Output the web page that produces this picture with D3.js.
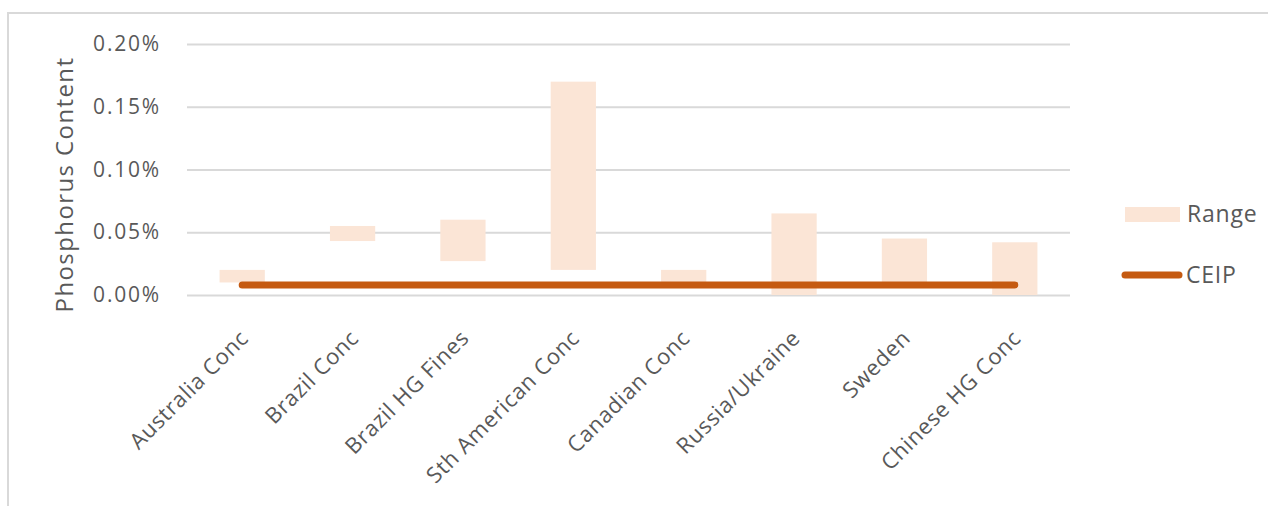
<!DOCTYPE html>
<html>
<head>
<meta charset="utf-8">
<script src="https://cdn.jsdelivr.net/npm/d3@7"></script>
<style>
  html, body { margin: 0; padding: 0; background: #fff; }
  svg { display: block; font-family: "Open Sans", "Noto Sans", sans-serif; }
</style>
</head>
<body>
<svg id="chart" width="1268" height="506"></svg>
<script>
const categories = ["Australia Conc", "Brazil Conc", "Brazil HG Fines", "Sth American Conc",
  "Canadian Conc", "Russia/Ukraine", "Sweden", "Chinese HG Conc"];
const rangeLow  = [0.010, 0.043, 0.027, 0.020, 0.010, 0.000, 0.010, 0.000];
const rangeHigh = [0.020, 0.055, 0.060, 0.170, 0.020, 0.065, 0.045, 0.042];
const ceip      = [0.008, 0.008, 0.008, 0.008, 0.008, 0.008, 0.008, 0.008];
const yTicks    = [0, 0.05, 0.10, 0.15, 0.20];
const seriesNames = ["Range", "CEIP"];

const FONT = '"Open Sans", "Noto Sans", sans-serif';
const svg = d3.select("#chart");
const W = 1268, H = 506;
const plot = { left: 187, right: 1070, top: 44, bottom: 295 };

const x = d3.scaleBand().domain(categories).range([plot.left, plot.right]).paddingInner(0).paddingOuter(0);
const y = d3.scaleLinear().domain([0, 0.20]).range([plot.bottom, plot.top]);

// outer border (top + left)
svg.append("path")
  .attr("d", `M8,${H + 5} L8,13 L${W + 5},13`)
  .attr("fill", "none").attr("stroke", "#d9d9d9").attr("stroke-width", 2);

// gridlines
const yAxis = d3.axisLeft(y).tickValues(yTicks)
  .tickSize(-(plot.right - plot.left)).tickPadding(26)
  .tickFormat(d => d.toFixed(2) + "%");
const gy = svg.append("g").attr("transform", `translate(${plot.left},0)`).call(yAxis)
  .attr("font-family", FONT);
gy.select(".domain").remove();
gy.selectAll(".tick line").attr("stroke", "#d9d9d9").attr("stroke-width", 2);
gy.selectAll(".tick text").attr("fill", "#595959").style("font-size", "21px")
  .style("letter-spacing", "1.8px");

// bars
const barW = x.bandwidth() * 0.41;
svg.append("g").selectAll("rect").data(categories).join("rect")
  .attr("x", d => x(d) + x.bandwidth() / 2 - barW / 2)
  .attr("width", barW)
  .attr("y", (d, i) => y(rangeHigh[i]))
  .attr("height", (d, i) => y(rangeLow[i]) - y(rangeHigh[i]))
  .attr("fill", "#fbe5d6");

// CEIP line
const line = d3.line().x((d, i) => x(categories[i]) + x.bandwidth() / 2).y(d => y(d));
svg.append("path").datum(ceip).attr("d", line)
  .attr("fill", "none").attr("stroke", "#c55a11").attr("stroke-width", 7)
  .attr("stroke-linecap", "round").attr("stroke-linejoin", "round");

// x labels
const xAxis = d3.axisBottom(x).tickSize(0).tickPadding(0);
const gx = svg.append("g").attr("transform", `translate(0,${plot.bottom})`).call(xAxis)
  .attr("font-family", FONT);
gx.select(".domain").remove();
gx.selectAll(".tick text")
  .attr("fill", "#595959").style("font-size", "22px")
  .style("letter-spacing", "0.7px")
  .attr("text-anchor", "end")
  .attr("transform", "translate(2,39) rotate(-45)")
  .attr("dy", "0.35em").attr("y", 0).attr("x", 0);

// y-axis title
svg.append("text")
  .attr("transform", `translate(73,${(plot.top + plot.bottom) / 2 + 15}) rotate(-90)`)
  .attr("text-anchor", "middle")
  .attr("fill", "#595959").style("font-size", "24px")
  .style("letter-spacing", "1.4px")
  .text("Phosphorus Content");

// legend
const lg = svg.append("g");
lg.append("rect").attr("x", 1125).attr("y", 207).attr("width", 55).attr("height", 15).attr("fill", "#fbe5d6");
lg.append("text").attr("x", 1187).attr("y", 214).attr("dy", "0.35em").attr("fill", "#595959")
  .style("font-size", "23px").style("letter-spacing", "0.8px").text(seriesNames[0]);
lg.append("line").attr("x1", 1125).attr("x2", 1179).attr("y1", 275).attr("y2", 275)
  .attr("stroke", "#c55a11").attr("stroke-width", 7).attr("stroke-linecap", "round");
lg.append("text").attr("x", 1186).attr("y", 275).attr("dy", "0.35em").attr("fill", "#595959")
  .style("font-size", "23px").style("letter-spacing", "0.8px").text(seriesNames[1]);
</script>
</body>
</html>
